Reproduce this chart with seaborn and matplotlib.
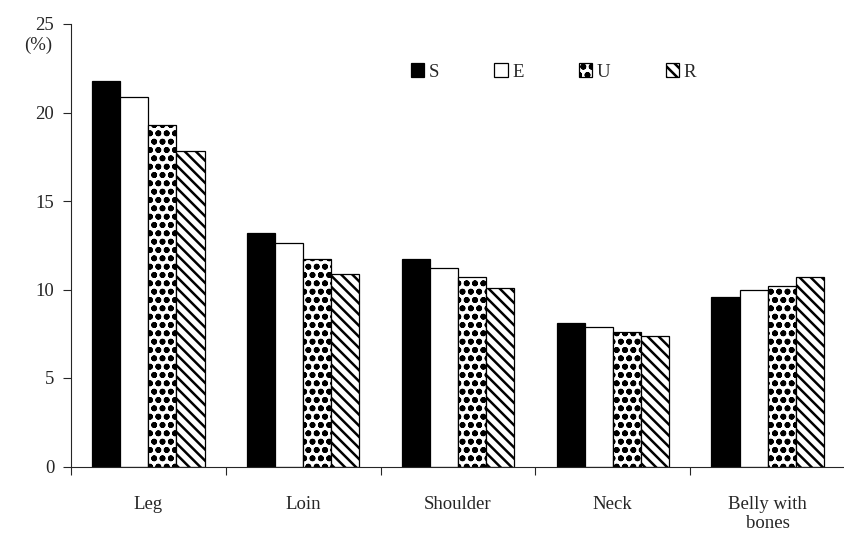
import numpy as np
import pandas as pd
import seaborn as sns
import matplotlib.pyplot as plt

# values (%)
cuts = ['Leg', 'Loin', 'Shoulder', 'Neck', 'Belly with\nbones']
groups = ['S', 'E', 'U', 'R']
s_vals = [21.8, 13.2, 11.7, 8.1, 9.6]
e_vals = [20.9, 12.6, 11.2, 7.9, 10.0]
u_vals = [19.3, 11.7, 10.7, 7.6, 10.2]
r_vals = [17.8, 10.9, 10.1, 7.4, 10.7]

df = pd.DataFrame({
    'cut': cuts * 4,
    'group': [g for g in groups for _ in cuts],
    'value': s_vals + e_vals + u_vals + r_vals,
})

sns.set_style('ticks')
plt.rcParams['font.family'] = ['Liberation Serif', 'DejaVu Serif']
plt.rcParams['hatch.linewidth'] = 1.8
plt.rcParams['hatch.color'] = 'black'

fig = plt.figure(figsize=(8.45, 5.41), dpi=100)
ax = fig.add_axes([71 / 845, 1 - 466.5 / 541, 1 - 71 / 845, (466.5 - 24) / 541])

palette = {'S': 'black', 'E': 'white', 'U': 'white', 'R': 'white'}
sns.barplot(data=df, x='cut', y='value', hue='group', palette=palette,
            width=0.725, edgecolor='black', linewidth=0.9, saturation=1,
            legend=False, ax=ax)

# patterns for the unfilled bars
hatches = ['', '', 'oo..', '\\\\\\']
for cont, h in zip(ax.containers, hatches):
    for bar in cont:
        bar.set_hatch(h)

ax.set_ylim(0, 25)
ax.set_yticks([0, 5, 10, 15, 20, 25])
ax.set_xlim(-0.5, -0.5 + (845 - 71) / 156.5)
ax.set_xlabel('')
ax.set_ylabel('')
ax.set_xticks(np.arange(-0.5, 4.6, 1), minor=True)
ax.tick_params(axis='x', which='major', length=0, pad=21, labelsize=13.5)
ax.tick_params(axis='x', which='minor', length=6, width=0.8, direction='out')
ax.tick_params(axis='y', length=6, width=0.8, pad=6, labelsize=13.5)
sns.despine(ax=ax)
for sp in ['left', 'bottom']:
    ax.spines[sp].set_linewidth(0.8)

fig.text(38 / 845, 1 - 45 / 541, '(%)', ha='center', va='center', fontsize=13.5)

ax.legend(ax.containers, groups, ncol=4, frameon=False, fontsize=13.5,
          handlelength=0.7, handleheight=0.7, handletextpad=0.25,
          columnspacing=2.95, borderpad=0, borderaxespad=0,
          loc='center left', bbox_to_anchor=(411 / 845, 1 - 72 / 541),
          bbox_transform=fig.transFigure)

fig.savefig('out.png', dpi=100)
